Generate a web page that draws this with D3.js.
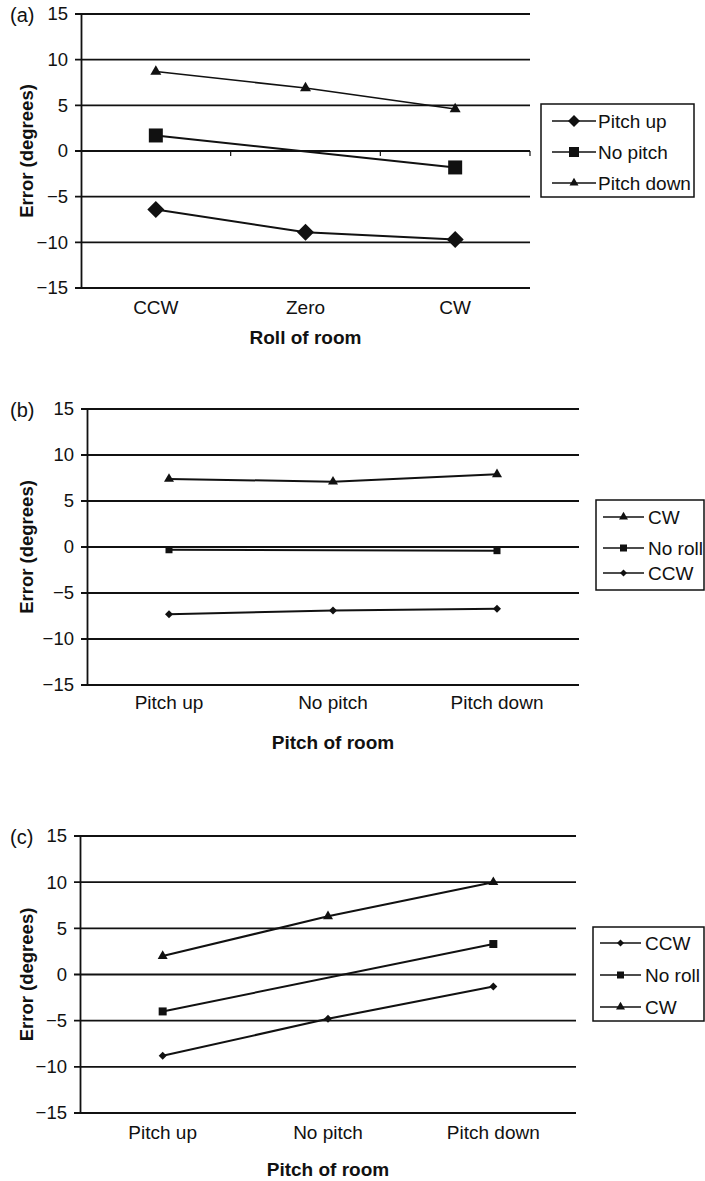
<!DOCTYPE html>
<html>
<head>
<meta charset="utf-8">
<script src="https://cdn.jsdelivr.net/npm/d3@7"></script>
<style>
  body { margin: 0; background: #fff; }
  svg { display: block; font-family: "Liberation Sans", Arial, sans-serif; }
</style>
</head>
<body>
<svg id="chart" width="705" height="1181"></svg>
<script>
// category labels
const rollCats = ["CCW", "Zero", "CW"];
const pitchCats = ["Pitch up", "No pitch", "Pitch down"];
const yTicks = [15, 10, 5, 0, -5, -10, -15];

// panel (a): error vs roll of room, one line per pitch
const aPitchUp = [-6.4, -8.9, -9.7];
const aNoPitch = [1.7, null, -1.8];
const aPitchDown = [8.7, 6.9, 4.6];

// panel (b): error vs pitch of room, one line per roll
const bCW = [7.4, 7.1, 7.9];
const bNoRoll = [-0.3, null, -0.4];
const bCCW = [-7.3, -6.9, -6.7];

// panel (c)
const cCCW = [-8.8, -4.8, -1.3];
const cNoRoll = [-4.0, null, 3.3];
const cCW = [2.0, 6.3, 10.0];

const svg = d3.select("#chart");

// symbol helper, w = visual width in px
function marker(shape, w) {
  if (shape === "diamond") return d3.symbol(d3.symbolSquare, w * w / 2)();
  if (shape === "square") return d3.symbol(d3.symbolSquare, w * w)();
  const yy = w / (2 * Math.sqrt(3));
  return d3.symbol(d3.symbolTriangle, yy * yy * 3 * Math.sqrt(3))();
}

function drawPanel(p) {
  const x = d3.scaleBand().domain(p.cats).range([p.left, p.right]);
  const y = d3.scaleLinear().domain([-15, 15]).range([p.bottom, p.top]);
  const g = svg.append("g");

  // horizontal gridlines
  g.selectAll("line.grid").data(yTicks).enter().append("line")
    .attr("x1", p.left - 6).attr("x2", p.right)
    .attr("y1", d => y(d)).attr("y2", d => y(d))
    .attr("stroke", "#111").attr("stroke-width", 1.8);

  // y axis
  const ya = g.append("g").attr("transform", `translate(${p.left},0)`)
    .call(d3.axisLeft(y).tickValues(yTicks).tickSize(0).tickPadding(13)
      .tickFormat(d => d < 0 ? "\u2212" + Math.abs(d) : d));
  ya.select(".domain").attr("stroke", "#111").attr("stroke-width", 1.8);
  ya.selectAll("text").attr("font-size", 18.5).attr("fill", "#111")
    .attr("font-family", "Liberation Sans, Arial, sans-serif");

  // x axis line at zero with boundary ticks (panel a)
  if (p.zeroTicks) {
    g.selectAll("line.xt").data(p.cats).enter().append("line")
      .attr("x1", d => x(d) + x.bandwidth()).attr("x2", d => x(d) + x.bandwidth())
      .attr("y1", y(0)).attr("y2", y(0) + 5)
      .attr("stroke", "#111").attr("stroke-width", 1.2);
  }

  // category labels
  g.selectAll("text.cat").data(p.cats).enter().append("text")
    .attr("x", d => x(d) + x.bandwidth() / 2).attr("y", p.bottom + p.catOff)
    .attr("text-anchor", "middle").attr("font-size", 19).attr("fill", "#111")
    .text(d => d);

  // series
  const line = d3.line().x(d => x(d.c) + x.bandwidth() / 2).y(d => y(d.v));
  p.series.forEach(s => {
    const pts = s.values.map((v, i) => ({ c: p.cats[i], v: v })).filter(d => d.v !== null);
    g.append("path").datum(pts).attr("d", line)
      .attr("fill", "none").attr("stroke", "#111").attr("stroke-width", s.lw || 2);
    g.selectAll(null).data(pts).enter().append("path")
      .attr("d", marker(s.shape, s.size))
      .attr("transform", d => `translate(${x(d.c) + x.bandwidth() / 2},${y(d.v)})` + (s.shape === "diamond" ? " rotate(45)" : ""))
      .attr("fill", "#111");
  });

  // axis titles
  g.append("text").attr("x", (p.left + p.right) / 2).attr("y", p.xTitleY)
    .attr("text-anchor", "middle").attr("font-size", 19).attr("font-weight", "bold")
    .attr("fill", "#111").text(p.xTitle);
  g.append("text").attr("transform", `translate(33,${y(0)}) rotate(-90)`)
    .attr("text-anchor", "middle").attr("font-size", 18.5).attr("font-weight", "bold")
    .attr("fill", "#111").text("Error (degrees)");
  g.append("text").attr("x", 10).attr("y", p.top + 8)
    .attr("font-size", 20).attr("fill", "#111").text(p.tag);

  // legend
  const L = p.legend;
  g.append("rect").attr("x", L.x).attr("y", L.y).attr("width", L.w).attr("height", L.h)
    .attr("fill", "#fff").attr("stroke", "#111").attr("stroke-width", 1.5);
  L.order.forEach((si, k) => {
    const s = p.series[si];
    const ly = L.rows[k];
    g.append("line").attr("x1", L.x + L.pad).attr("x2", L.x + L.pad + L.sample)
      .attr("y1", ly).attr("y2", ly).attr("stroke", "#111").attr("stroke-width", s.lw || 1.6);
    g.append("path").attr("d", marker(s.shape, s.legSize))
      .attr("transform", `translate(${L.x + L.pad + L.sample / 2},${ly})` + (s.shape === "diamond" ? " rotate(45)" : ""))
      .attr("fill", "#111");
    g.append("text").attr("x", L.x + L.pad + L.sample + L.gap).attr("y", ly + 7)
      .attr("font-size", 19).attr("fill", "#111").text(s.name);
  });
}

drawPanel({
  tag: "(a)", cats: rollCats, left: 81, right: 530, top: 14, bottom: 288,
  catOff: 26, xTitle: "Roll of room", xTitleY: 344, zeroTicks: true,
  series: [
    { name: "Pitch up", values: aPitchUp, shape: "diamond", size: 17, legSize: 12 },
    { name: "No pitch", values: aNoPitch, shape: "square", size: 14, legSize: 10 },
    { name: "Pitch down", values: aPitchDown, shape: "triangle", size: 11, legSize: 9, lw: 1.6 }
  ],
  legend: { x: 541, y: 104, w: 153, h: 93, pad: 11, sample: 44, gap: 2, rows: [121, 152, 183], order: [0, 1, 2] }
});

drawPanel({
  tag: "(b)", cats: pitchCats, left: 87, right: 579, top: 409, bottom: 685,
  catOff: 24, xTitle: "Pitch of room", xTitleY: 749,
  series: [
    { name: "CW", values: bCW, shape: "triangle", size: 10, legSize: 9 },
    { name: "No roll", values: bNoRoll, shape: "square", size: 7, legSize: 7 },
    { name: "CCW", values: bCCW, shape: "diamond", size: 8, legSize: 7 }
  ],
  legend: { x: 596, y: 500, w: 108, h: 90, pad: 7, sample: 41, gap: 4, rows: [517, 548, 573], order: [0, 1, 2] }
});

drawPanel({
  tag: "(c)", cats: pitchCats, left: 80, right: 576, top: 836, bottom: 1113,
  catOff: 26, xTitle: "Pitch of room", xTitleY: 1176,
  series: [
    { name: "CCW", values: cCCW, shape: "diamond", size: 8, legSize: 7 },
    { name: "No roll", values: cNoRoll, shape: "square", size: 8, legSize: 7 },
    { name: "CW", values: cCW, shape: "triangle", size: 10, legSize: 9 }
  ],
  legend: { x: 593, y: 927, w: 111, h: 94, pad: 7, sample: 41, gap: 4, rows: [943, 975, 1007], order: [0, 1, 2] }
});
</script>
</body>
</html>
